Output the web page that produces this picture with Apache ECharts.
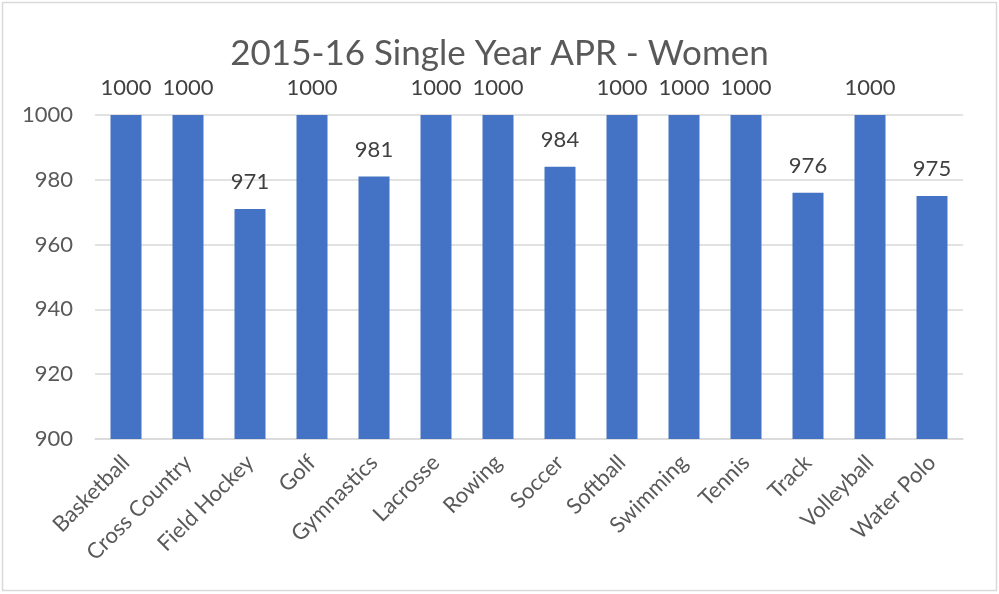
<!DOCTYPE html>
<html><head><meta charset="utf-8">
<script src="https://cdn.jsdelivr.net/npm/echarts@6/dist/echarts.min.js"></script>
<style>html,body{margin:0;padding:0;background:#fff}#c{width:999px;height:594px}</style>
</head><body><div id="c"></div>
<script>
const categories = ['Basketball','Cross Country','Field Hockey','Golf','Gymnastics','Lacrosse','Rowing','Soccer','Softball','Swimming','Tennis','Track','Volleyball','Water Polo'];
const values = [1000,1000,971,1000,981,1000,1000,984,1000,1000,1000,976,1000,975];
const yTicks = [900,920,940,960,980,1000];
const titleText = '2015-16 Single Year APR - Women';

const chart = echarts.init(document.getElementById('c'), null, {renderer:'canvas'});
const font = 'Lato, "Open Sans", sans-serif';
chart.setOption({
  animation:false,
  backgroundColor:'#fff',
  title:{text:titleText,left:'center',top:31,textStyle:{fontFamily:font,fontSize:35,fontWeight:'normal',color:'#595959'}},
  graphic:[{type:'rect',shape:{x:2.5,y:2.5,width:994,height:588},style:{fill:'none',stroke:'#d9d9d9',lineWidth:1.5}}],
  grid:{left:95,right:36,top:115,bottom:155},
  xAxis:{type:'category',data:categories,
    axisLine:{lineStyle:{color:'#d9d9d9',width:1.5}},axisTick:{show:false},
    axisLabel:{rotate:45,interval:0,fontFamily:font,fontSize:22,color:'#595959',margin:20}},
  yAxis:{type:'value',min:yTicks[0],max:yTicks[yTicks.length-1],interval:20,
    axisLine:{show:false},axisTick:{show:false},
    splitLine:{lineStyle:{color:'#d9d9d9',width:1.5}},
    axisLabel:{fontFamily:font,fontSize:22,color:'#595959',margin:22,formatter:v=>String(v)}},
  series:[{type:'bar',data:values,barWidth:'50%',itemStyle:{color:'#4472c4'},
    label:{show:true,position:'top',distance:16,fontFamily:font,fontSize:22,color:'#404040'}}]
});
</script></body></html>
